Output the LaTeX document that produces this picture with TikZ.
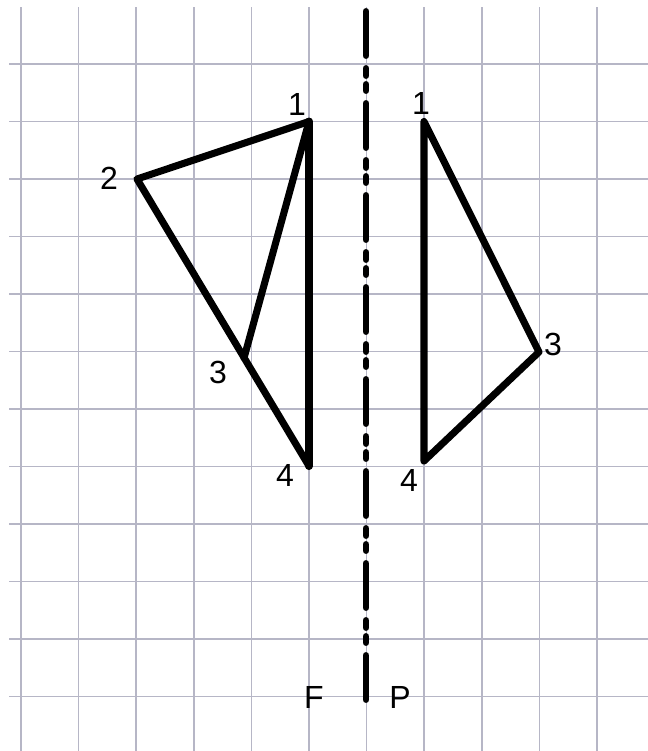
\documentclass[tikz,border=0pt]{standalone}
\usepackage{fontspec}
\setmainfont{Liberation Sans}
\definecolor{gridc}{RGB}{182,182,198}
\begin{document}
\begin{tikzpicture}[x=0.75pt,y=-0.75pt,
  gridline/.style={draw=gridc, line width=1.1pt},
  shapeline/.style={draw=black, line width=5.3pt, line join=round, line cap=round},
  axisline/.style={draw=black, line width=5.2pt, line cap=round,
    dash pattern=on 33pt off 9.75pt on 5.25pt off 6.75pt on 4.5pt off 9.75pt},
  lbl/.style={inner sep=0pt, font=\fontsize{24}{27}\selectfont}]
\useasboundingbox (0,0) rectangle (648,751);
\fill[white] (0,0) rectangle (648,751);
% grid
\foreach \k in {0,...,10} \draw[gridline] ({21+57.6*\k},7) -- ({21+57.6*\k},751);
\foreach \k in {0,...,11} \draw[gridline] (9,{64+57.5*\k}) -- (648,{64+57.5*\k});
% axis
\coordinate (axtop) at (366,11.5);
\coordinate (axbot) at (366,701.5);
\draw[axisline] (axtop) -- (axbot);
% left figure
\coordinate (a1) at (309,121.5);
\coordinate (a2) at (137,179);
\coordinate (a3) at (244,358);
\coordinate (a4) at (309,466);
\draw[shapeline] (a1) -- (a2) -- (a4) -- cycle;
\draw[shapeline] (a3) -- (a1);
\draw[shapeline, line width=6pt] (a1) -- (a4);
% right figure
\coordinate (b1) at (424,121.5);
\coordinate (b3) at (539,352);
\coordinate (b4) at (424,461);
\draw[shapeline] (b1) -- (b3) -- (b4) -- cycle;
% labels
\node[lbl] (la1) at (297,104) {1};
\node[lbl] (la2) at (109,178) {2};
\node[lbl] (la3) at (218,372) {3};
\node[lbl] (la4) at (285,475) {4};
\node[lbl] (lb1) at (421,103) {1};
\node[lbl] (lb3) at (553,344) {3};
\node[lbl] (lb4) at (409,480) {4};
\node[lbl] (lf) at (314,697) {F};
\node[lbl] (lp) at (400,697) {P};
\end{tikzpicture}
\end{document}
